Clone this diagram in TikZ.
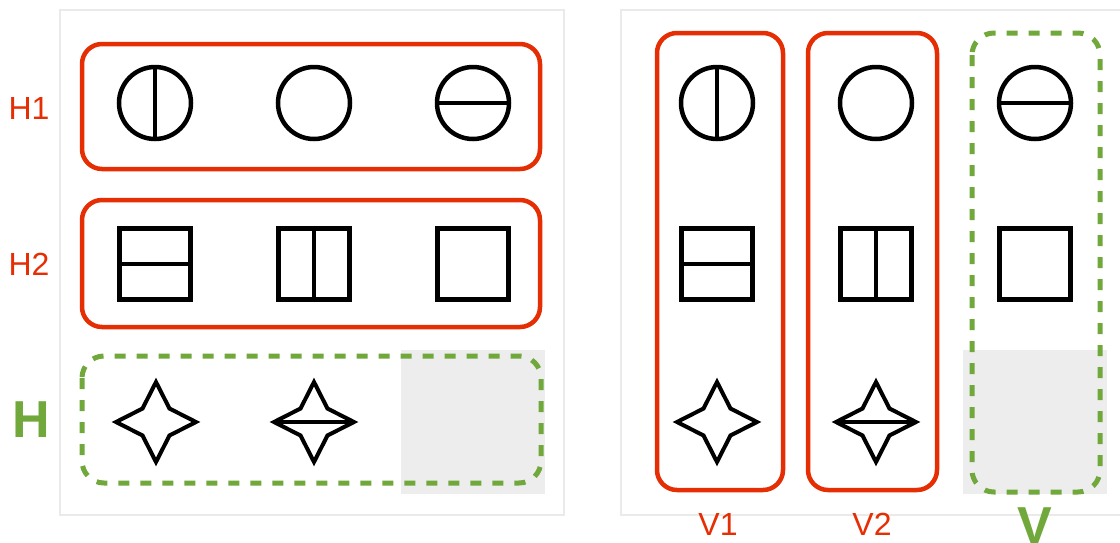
\documentclass[tikz,border=0pt]{standalone}
\usepackage{fontspec}
\setmainfont{Liberation Sans}
\usetikzlibrary{shapes.geometric}

\definecolor{boxred}{RGB}{230,46,5}
\definecolor{boxgreen}{RGB}{112,168,59}
\definecolor{panelgray}{RGB}{234,234,234}
\definecolor{cellgray}{RGB}{237,237,237}

\tikzset{
  panel/.style={draw=panelgray, line width=2pt},
  redgrp/.style={draw=boxred, line width=4.5pt, rounded corners=20pt},
  greengrp/.style={draw=boxgreen, line width=5pt, rounded corners=22pt, dash pattern=on 11pt off 11pt},
  circ/.style={draw, circle, line width=4.5pt, minimum size=72pt, inner sep=0pt, outer sep=0pt},
  sq/.style={draw, rectangle, line width=5pt, minimum size=71pt, inner sep=0pt, outer sep=0pt},
  quad/.style={draw, star, star points=4, star point ratio=2.1, line width=4pt, minimum size=80pt, inner sep=0pt, outer sep=0pt},
  split/.style={line width=4pt},
  redlbl/.style={text=boxred, inner sep=0pt, font=\fontsize{32}{36}\selectfont},
  greenlbl/.style={text=boxgreen, inner sep=0pt, font=\fontsize{52}{56}\selectfont\bfseries}
}

\begin{document}
\begin{tikzpicture}[x=1pt, y=-1pt]
  \clip (0,0) rectangle (1120,542);

  % panels
  \draw[panel] (60,10) rectangle (564,515);
  \draw[panel] (621,10) rectangle (1140,515);

  % empty cells
  \fill[cellgray] (401,350) rectangle (545,494);
  \fill[cellgray] (963,350) rectangle (1107,494);

  % left panel: horizontal groups
  \draw[redgrp] (82,44) rectangle (540,169);
  \draw[redgrp] (82,200) rectangle (540,327);
  \draw[greengrp] (82,356) rectangle (541,483);

  \node[redlbl] (h1) at (29,108) {H1};
  \node[redlbl] (h2) at (29,264) {H2};
  \node[greenlbl] (h) at (31,420) {H};

  \node[circ] (lc1) at (155,103) {};
  \node[circ] (lc2) at (314,103) {};
  \node[circ] (lc3) at (473,103) {};
  \draw[split] (lc1.north) -- (lc1.south);
  \draw[split] (lc3.west) -- (lc3.east);

  \node[sq] (ls1) at (155,263.5) {};
  \node[sq] (ls2) at (314,263.5) {};
  \node[sq] (ls3) at (473,263.5) {};
  \draw[split] (ls1.west) -- (ls1.east);
  \draw[split] (ls2.north) -- (ls2.south);

  \node[quad] (lq1) at (156,422) {};
  \node[quad] (lq2) at (314,422) {};
  \draw[split] (lq2.west) -- (lq2.east);

  % right panel: vertical groups
  \draw[redgrp] (657,33) rectangle (783,490);
  \draw[redgrp] (808,33) rectangle (937,490);
  \draw[greengrp] (972,33) rectangle (1100,492);

  \node[redlbl] (v1) at (718,524) {V1};
  \node[redlbl] (v2) at (872,524) {V2};
  \node[greenlbl] (v) at (1035,526) {V};

  \node[circ] (rc1) at (717,103) {};
  \node[circ] (rc2) at (876,103) {};
  \node[circ] (rc3) at (1035,103) {};
  \draw[split] (rc1.north) -- (rc1.south);
  \draw[split] (rc3.west) -- (rc3.east);

  \node[sq] (rs1) at (717,263.5) {};
  \node[sq] (rs2) at (876,263.5) {};
  \node[sq] (rs3) at (1035,263.5) {};
  \draw[split] (rs1.west) -- (rs1.east);
  \draw[split] (rs2.north) -- (rs2.south);

  \node[quad] (rq1) at (717,422) {};
  \node[quad] (rq2) at (876,422) {};
  \draw[split] (rq2.west) -- (rq2.east);
\end{tikzpicture}
\end{document}
